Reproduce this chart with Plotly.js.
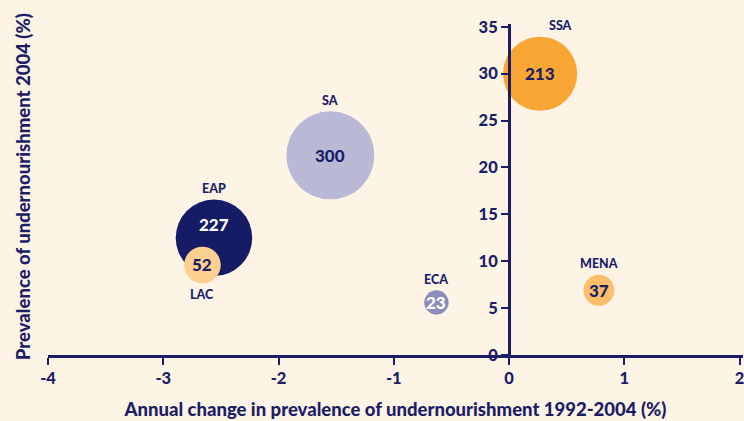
<!DOCTYPE html>
<html>
<head>
<meta charset="utf-8">
<script src="https://cdn.plot.ly/plotly-3.0.1.min.js"></script>
<style>html,body{margin:0;padding:0;background:#FEF4E6;}#chart{width:744px;height:421px;}</style>
</head>
<body>
<div id="chart"></div>
<script>
// Data
var regions = ["SSA", "SA", "EAP", "LAC", "ECA", "MENA"];
var annualChange = [0.27, -1.55, -2.56, -2.66, -0.63, 0.78];
var prevalence2004 = [30.0, 21.3, 12.5, 9.6, 5.6, 6.9];
var undernourishedMillions = [213, 300, 227, 52, 23, 37];
var xTickVals = [-4, -3, -2, -1, 0, 1, 2];
var yTickVals = [0, 5, 10, 15, 20, 25, 30, 35];

// Styles
var navy = "#1B1E66";
var fillColors = ["#F9A634", "#B9B9D5", "#151B64", "#FBD091", "#8D8DB9", "#FDBE6B"];
var valueColors = [navy, navy, "#FFFFFF", navy, "#FFFFFF", navy];
var valueYShift = [0, 0, 13, 0, 0, 0];
var labelSide = [1, 1, 1, -1, 1, 1];
var labelXShift = [20, 0, 0, 0, 0, 0];
var sizeRef = 0.0775;
var fontFam = "Lato, 'Open Sans', sans-serif";
var W = 900;

function radiusOf(v) { return Math.sqrt(v / 2 / sizeRef); }

var trace = {
  type: "scatter",
  mode: "markers",
  x: annualChange,
  y: prevalence2004,
  cliponaxis: false,
  hoverinfo: "none",
  marker: {
    size: undernourishedMillions,
    sizemode: "area",
    sizeref: sizeRef,
    color: fillColors,
    opacity: 1,
    line: { width: 0 }
  }
};

var annotations = [];
for (var i = 0; i < regions.length; i++) {
  annotations.push({
    x: annualChange[i], y: prevalence2004[i], xref: "x", yref: "y",
    text: undernourishedMillions[i] + "",
    showarrow: false, yshift: valueYShift[i],
    font: { family: fontFam, size: 17, color: valueColors[i], weight: W }
  });
  annotations.push({
    x: annualChange[i], y: prevalence2004[i], xref: "x", yref: "y",
    text: regions[i],
    showarrow: false,
    xshift: labelXShift[i],
    yshift: labelSide[i] * (radiusOf(undernourishedMillions[i]) + 11),
    font: { family: fontFam, size: 12.5, color: navy, weight: W }
  });
}
annotations.push({
  xref: "paper", yref: "paper", x: -0.036, y: 0.51, xanchor: "center", yanchor: "middle",
  text: "Prevalence of undernourishment 2004 (%)", textangle: -90, showarrow: false,
  font: { family: fontFam, size: 18.5, color: navy, weight: W }
});

var xmin = -4, xmax = 2.03;
var tickFont = { family: fontFam, size: 16.5, color: navy, weight: W };
var layout = {
  width: 744, height: 421,
  paper_bgcolor: "#FEF4E6", plot_bgcolor: "#FEF4E6",
  margin: { l: 48, r: 1, t: 24, b: 66 },
  showlegend: false,
  xaxis: {
    range: [xmin, xmax], tickvals: xTickVals, ticktext: xTickVals.map(String),
    showgrid: false, zeroline: false, showline: true, linecolor: navy, linewidth: 2.5,
    ticks: "outside", ticklen: 7, tickwidth: 2, tickcolor: navy,
    tickfont: tickFont, ticklabeloverflow: "allow",
    title: { text: "Annual change in prevalence of undernourishment 1992-2004 (%)",
      font: { family: fontFam, size: 18.5, color: navy, weight: W }, standoff: 16 },
    fixedrange: true
  },
  yaxis: {
    range: [0, 35.3], tickvals: yTickVals, ticktext: yTickVals.map(String),
    anchor: "free", position: (0 - xmin) / (xmax - xmin), side: "left",
    showgrid: false, zeroline: false, showline: true, linecolor: navy, linewidth: 2.5,
    ticks: "outside", ticklen: 7, tickwidth: 2, tickcolor: navy,
    tickfont: tickFont, ticklabeloverflow: "allow",
    fixedrange: true
  },
  annotations: annotations
};

Plotly.newPlot("chart", [trace], layout, { displayModeBar: false, staticPlot: true });
</script>
</body>
</html>
